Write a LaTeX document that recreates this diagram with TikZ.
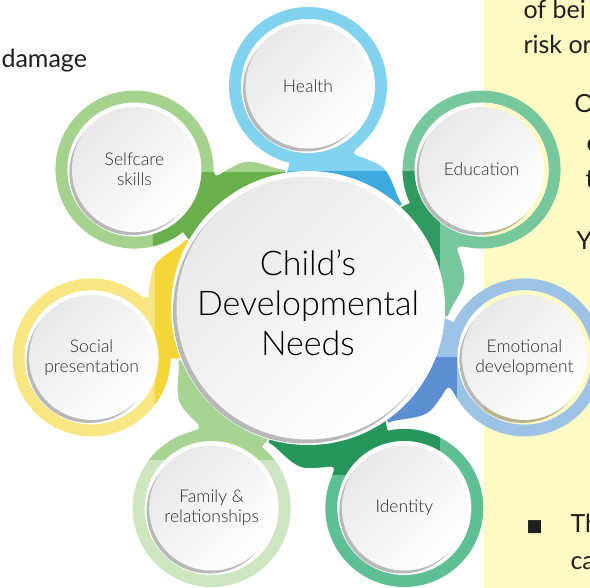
\documentclass[tikz,border=0pt]{standalone}
\usepackage{fontspec}
\setmainfont{Lato}[UprightFont=* Light]
\newfontfamily\bodyfont{Lato}
\newfontfamily\symbolfont{DejaVu Sans}

\definecolor{healthA}{HTML}{80D2EF}
\definecolor{healthB}{HTML}{3DAADF}
\definecolor{eduA}{HTML}{77C79C}
\definecolor{eduB}{HTML}{2F9A5F}
\definecolor{emoA}{HTML}{9CC2E5}
\definecolor{emoB}{HTML}{5B8FD1}
\definecolor{idA}{HTML}{5EBF95}
\definecolor{idB}{HTML}{26965A}
\definecolor{famA}{HTML}{CDE6C0}
\definecolor{famB}{HTML}{A8D493}
\definecolor{socA}{HTML}{F8E682}
\definecolor{socB}{HTML}{F5D638}
\definecolor{selfA}{HTML}{A5D38D}
\definecolor{selfB}{HTML}{69AF4B}
\definecolor{panel}{HTML}{FFF9C4}
\definecolor{discgrey}{HTML}{E8E8E9}
\definecolor{ink}{HTML}{2B2B2B}

\begin{document}
\begin{tikzpicture}[x=1pt,y=1pt,
                    ring shadow/.style={fill=black,opacity=.28},
                    disc/.style={circle,inner sep=0pt,minimum size=125pt,
                                 top color=discgrey,bottom color=white,shading angle=45,
                                 font=\fontsize{17.5}{20}\selectfont,text=ink,align=center},
                    hub/.style={disc,minimum size=263pt},
                    hub text/.style={font=\fontsize{34}{40}\selectfont,text=black,align=center},
                    page text/.style={anchor=base west,text=black!88,
                                      font=\bodyfont\fontsize{25}{30}\selectfont}]
    \useasboundingbox (-308,-280) rectangle (282,308);
    \clip (-308,-280) rectangle (282,308);

    % page behind the figure
    \fill[panel] (176,-280) rectangle (282,308);
    \node[page text] (damage) at (-310,240) {damage};
    \node[page text] (being) at (212,289) {of bei};
    \node[page text] (risk) at (212,254) {risk or};
    \node[page text] (lineO) at (263,195) {O};
    \node[page text] (lineC) at (275,156) {c};
    \node[page text] (lineT) at (274,120) {t};
    \node[page text] (lineY) at (265,58) {Y};
    \node[page text,font=\symbolfont\fontsize{17}{20}\selectfont] (bullet) at (215,-224) {■};
    \node[page text] (lineTh) at (259,-225) {Th};
    \node[page text] (lineCa) at (259,-262) {ca};

    % coloured rings with their tails round the hub
    \def\satring{(0,222) circle (79)}
    \def\tail{(50.8,161.5) .. controls (46.2,157.6) and (43.7,154.1) .. (72:160)
              arc[start angle=72,end angle=64,radius=160]
              .. controls (83.6,137.2) and (86.5,113.6) .. (93.7,104.0) -- (48:125)
              arc[start angle=48,end angle=101,radius=125] -- (0,222) -- cycle}
    \foreach \ang/\ca/\cb/\xa/\ya/\xb/\yb in {90/healthA/healthB/-400/-400/400/136,
                                             38.57/eduA/eduB/-400/-400/132/136,
                                             -12.86/emoA/emoB/-400/-400/149/-50,
                                             -64.29/idA/idB/-400/-167/132/400,
                                             -115.71/famA/famB/-400/-152/400/400,
                                             -167.14/socA/socB/-153/-102/400/400,
                                             141.43/selfA/selfB/-155/-400/400/135}{
        \begin{scope}
            \begin{scope}[rotate=\ang-90]
                \fill[\ca] \satring;
                \fill[\ca] \tail;
            \end{scope}
            \clip (\xa,\ya) rectangle (\xb,\yb);
            \begin{scope}[rotate=\ang-90]
                \fill[\cb] \satring;
                \fill[\cb] \tail;
            \end{scope}
        \end{scope}
    }

    % hub
    \fill[white] (0,0) circle (137);
    \fill[ring shadow] (-3,-3.5) circle (132);
    \node[hub] (needs) at (0,0) {};
    \node[hub text] (needstext) at (0,5) {Child’s\\Developmental\\Needs};

    % the seven needs
    \foreach \ang/\nm/\txt in {90/health/Health,
                               38.57/education/Education,
                               -12.86/emotional/{Emotional\\development},
                               -64.29/identity/Identity,
                               -115.71/family/{Family \&\\relationships},
                               -167.14/social/{Social\\presentation},
                               141.43/selfcare/{Selfcare\\skills}}{
        \fill[white] (\ang:222) circle (67);
        \begin{scope}
            \clip (176,-280) rectangle (282,308);
            \fill[panel] (\ang:222) circle (67);
        \end{scope}
        \fill[ring shadow,shift={(\ang:222)}] (-2.5,-3) circle (62.5);
        \node[disc] (\nm) at (\ang:222) {\txt};
    }
\end{tikzpicture}
\end{document}
